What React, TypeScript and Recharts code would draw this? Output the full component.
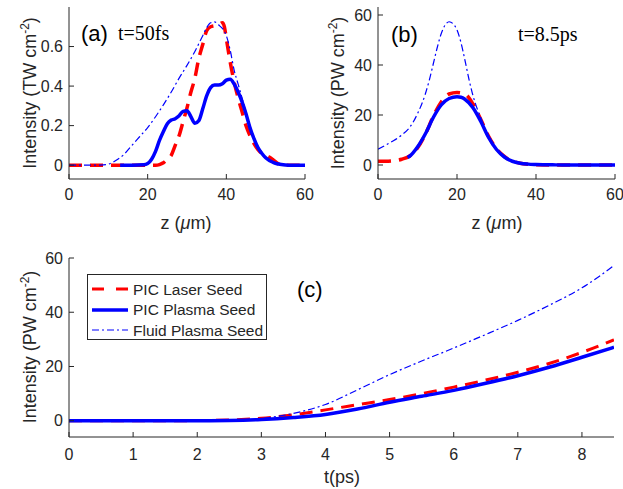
import React from 'react';
import { LineChart, Line, XAxis, YAxis, Legend } from 'recharts';

// panel (a): t = 50 fs, intensity in TW cm^-2 vs z (um)
const aFluidZ = [0, 4, 8, 10, 12, 14, 16, 18, 20, 22, 24, 26, 28, 30, 32, 34, 35, 36, 37, 38, 40, 41, 42, 43, 44, 46, 48, 50, 52, 54, 60];
const aFluidV = [0, 0, 0, 0.005, 0.025, 0.055, 0.1, 0.145, 0.19, 0.245, 0.305, 0.37, 0.44, 0.505, 0.575, 0.655, 0.695, 0.72, 0.725, 0.71, 0.655, 0.58, 0.48, 0.41, 0.34, 0.2, 0.09, 0.035, 0.01, 0, 0];
const aRedZ = [0, 22, 23, 24, 25, 26, 27, 28, 29, 30, 31, 32, 33, 34, 35, 36, 37, 38, 39, 39.5, 40, 41, 42, 43, 44, 45, 46, 47, 48, 49, 50, 51, 52, 53, 54, 60];
const aRedV = [0, 0, 0.003, 0.012, 0.03, 0.05, 0.1, 0.15, 0.22, 0.29, 0.37, 0.44, 0.54, 0.61, 0.68, 0.7, 0.705, 0.71, 0.72, 0.7, 0.64, 0.52, 0.42, 0.34, 0.27, 0.2, 0.15, 0.11, 0.08, 0.06, 0.05, 0.04, 0.025, 0.01, 0, 0];
const aSolidZ = [13, 16, 19, 20, 21, 22, 23, 24, 25, 26, 27, 28, 29, 30, 31, 32, 33, 34, 35, 36, 37, 38, 39, 40, 41, 42, 43, 44, 45, 46, 47, 48, 49, 50, 52, 54, 56, 60];
const aSolidV = [0, 0, 0.002, 0.008, 0.03, 0.07, 0.125, 0.17, 0.21, 0.228, 0.235, 0.25, 0.272, 0.275, 0.245, 0.212, 0.225, 0.285, 0.35, 0.392, 0.405, 0.405, 0.412, 0.43, 0.435, 0.41, 0.37, 0.32, 0.26, 0.19, 0.135, 0.09, 0.06, 0.037, 0.013, 0.003, 0, 0];

// panel (b): t = 8.5 ps, intensity in PW cm^-2 vs z (um)
const bFluidZ = [0, 2, 4, 6, 8, 10, 12, 13, 14, 15, 16, 17, 18, 19, 20, 21, 22, 23, 24, 25, 26, 28, 30, 32, 34, 36, 38, 40, 45, 50, 60];
const bFluidV = [6.3, 8, 9.8, 12, 15, 20.5, 28.5, 34, 40.5, 47, 52.5, 56, 57.3, 56.5, 54, 49, 42, 34.5, 28, 23, 19, 11, 6.2, 3.2, 1.5, 0.7, 0.35, 0.2, 0.05, 0, 0];
const bRedZ = [0, 2, 4, 6, 8, 10, 12, 14, 16, 18, 20, 22, 24, 26, 28, 30, 32, 34, 36, 38, 40, 45, 50, 60];
const bRedV = [1.5, 1.5, 1.7, 2.3, 3.6, 6.8, 12.3, 19.5, 25.2, 28.4, 29, 28.4, 24.5, 18.3, 11.5, 6.5, 3.4, 1.6, 0.7, 0.3, 0.1, 0, 0, 0];
const bSolidZ = [7.5, 8, 10, 12, 14, 16, 18, 20, 21, 22, 24, 26, 28, 30, 32, 34, 36, 38, 40, 45, 50, 60];
const bSolidV = [3, 3.5, 7.2, 12.5, 19, 24, 26.6, 27.3, 27.1, 26.3, 23, 17.5, 11, 6.2, 3.2, 1.5, 0.7, 0.35, 0.2, 0.05, 0, 0];

// panel (c): peak intensity vs time
const cT = [0, 0.5, 1, 1.5, 2, 2.5, 3, 3.5, 4, 4.5, 5, 5.5, 6, 6.5, 7, 7.5, 8, 8.5];
const cRed = [0, 0, 0, 0, 0.05, 0.3, 0.9, 2.2, 4.0, 5.9, 7.8, 10, 12.4, 15.0, 17.9, 21.2, 25.2, 29.8];
const cSolid = [0, 0, 0, 0, 0, 0.1, 0.45, 1.2, 2.3, 4.3, 6.8, 9.0, 11.2, 13.8, 16.6, 19.8, 23.4, 27.1];
const cFluid = [0, 0, 0, 0, 0, 0.1, 0.8, 2.7, 6.0, 11.4, 17.0, 22.0, 26.8, 31.8, 37.0, 42.7, 49.0, 57.2];

const zTicks = [0, 20, 40, 60];
const aTicks = [0, 0.2, 0.4, 0.6];
const bTicks = [0, 20, 40, 60];
const tTicks = [0, 1, 2, 3, 4, 5, 6, 7, 8];

const seriesNames = ['PIC Laser Seed', 'PIC Plasma Seed', 'Fluid Plasma Seed'];

const AX = '#262626';
const SANS = '"Liberation Sans", Arial, Helvetica, sans-serif';
const SERIF = '"Liberation Serif", "Times New Roman", serif';
const RED_DASH = '13 8';
const DASH_DOT = '7 3 2 3';

const pts = (xs: number[], vs: number[]) => xs.map((x, i) => ({ x, v: vs[i] }));

const tickStyle = { fontSize: 16, fill: AX, fontFamily: SANS };

function Frame({ xDomain, xTicks, yDomain, yTicks, yw, xm }: any) {
  return [
    <XAxis key="xb" xAxisId={0} type="number" dataKey="x" domain={xDomain} ticks={xTicks} allowDataOverflow
      height={30} stroke={AX} tickSize={-5} tickMargin={xm} tick={tickStyle} interval={0} />,
    <XAxis key="xt" xAxisId="top" orientation="top" type="number" dataKey="x" domain={xDomain} ticks={xTicks} allowDataOverflow
      height={0} stroke={AX} tickSize={-5} tickFormatter={() => ''} interval={0} />,
    <YAxis key="yl" yAxisId={0} type="number" domain={yDomain} ticks={yTicks} allowDataOverflow
      width={yw} stroke={AX} tickSize={-5} tickMargin={11} tick={tickStyle} interval={0} />,
    <YAxis key="yr" yAxisId="right" orientation="right" type="number" domain={yDomain} ticks={yTicks} allowDataOverflow
      width={0} stroke={AX} tickSize={-5} tickFormatter={() => ''} interval={0} />,
  ];
}

function CLegend() {
  const sample = (i: number) => {
    if (i === 0) return <line x1={0} y1={6} x2={36} y2={6} stroke="#ff0000" strokeWidth={3} strokeDasharray="12 12" />;
    if (i === 1) return <line x1={0} y1={6} x2={36} y2={6} stroke="#0000ff" strokeWidth={3.5} />;
    return <line x1={0} y1={6} x2={36} y2={6} stroke="#0000ff" strokeWidth={1.2} strokeDasharray={DASH_DOT} />;
  };
  return (
    <div style={{ width: 180, height: 66, border: `1px solid ${AX}`, background: '#fff', boxSizing: 'border-box', padding: '4px 0 0 4px' }}>
      {seriesNames.map((n, i) => (
        <div key={n} style={{ display: 'flex', alignItems: 'center', height: 20.5 }}>
          <svg width={36} height={12} style={{ marginRight: 5 }}>{sample(i)}</svg>
          <span style={{ fontFamily: SANS, fontSize: 15.5, color: AX, lineHeight: '15px' }}>{n}</span>
        </div>
      ))}
    </div>
  );
}

function YLabel({ x, y, unit }: { x: number; y: number; unit: string }) {
  return (
    <text transform={`translate(${x},${y}) rotate(-90)`} textAnchor="middle" fontFamily={SANS} fontSize={18} fill={AX}>
      {`Intensity (${unit} cm`}
      <tspan dy={-7} fontSize={12}>-2</tspan>
      <tspan dy={7}>)</tspan>
    </text>
  );
}

export default function App() {
  const t = (x: string, px: number, py: number, font: string, size: number, anchor = 'start') => (
    <text x={px} y={py} fontFamily={font} fontSize={size} fill="#000" textAnchor={anchor}>{x}</text>
  );
  const cRows = cT.map((x, i) => ({ x, red: cRed[i], solid: cSolid[i], fluid: cFluid[i] }));
  return (
    <div style={{ position: 'absolute', left: 0, top: 0, width: 623, height: 489, background: '#fff', overflow: 'hidden' }}>
      <div style={{ position: 'absolute', left: 0, top: 0 }}>
        <LineChart width={330} height={230} margin={{ top: 7, right: 25, bottom: 21, left: 0 }}>
          {Frame({ xDomain: [0, 60], xTicks: zTicks, yDomain: [-0.07, 0.8], yTicks: aTicks, yw: 69, xm: 15 })}
          <Line data={pts(aRedZ, aRedV)} dataKey="v" type="monotone" stroke="#ff0000" strokeWidth={3.5} strokeDasharray={RED_DASH} dot={false} isAnimationActive={false} />
          <Line data={pts(aSolidZ, aSolidV)} dataKey="v" type="monotone" stroke="#0000ff" strokeWidth={3.5} dot={false} isAnimationActive={false} />
          <Line data={pts(aFluidZ, aFluidV)} dataKey="v" type="monotone" stroke="#0000ff" strokeWidth={1.2} strokeDasharray={DASH_DOT} dot={false} isAnimationActive={false} />
        </LineChart>
      </div>
      <div style={{ position: 'absolute', left: 310, top: 0 }}>
        <LineChart width={313} height={230} margin={{ top: 7, right: 8, bottom: 21, left: 0 }}>
          {Frame({ xDomain: [0, 60], xTicks: zTicks, yDomain: [-5.6, 63.2], yTicks: bTicks, yw: 68, xm: 15 })}
          <Line data={pts(bRedZ, bRedV)} dataKey="v" type="monotone" stroke="#ff0000" strokeWidth={3.5} strokeDasharray={RED_DASH} dot={false} isAnimationActive={false} />
          <Line data={pts(bSolidZ, bSolidV)} dataKey="v" type="monotone" stroke="#0000ff" strokeWidth={3.5} dot={false} isAnimationActive={false} />
          <Line data={pts(bFluidZ, bFluidV)} dataKey="v" type="monotone" stroke="#0000ff" strokeWidth={1.2} strokeDasharray={DASH_DOT} dot={false} isAnimationActive={false} />
        </LineChart>
      </div>
      <div style={{ position: 'absolute', left: 0, top: 240 }}>
        <LineChart width={623} height={249} data={cRows} margin={{ top: 18, right: 9, bottom: 22, left: 0 }}>
          {Frame({ xDomain: [0, 8.5], xTicks: tTicks, yDomain: [-6, 60], yTicks: bTicks, yw: 69, xm: 17 })}
          <Line dataKey="red" name={seriesNames[0]} type="monotone" stroke="#ff0000" strokeWidth={3} strokeDasharray={RED_DASH} dot={false} isAnimationActive={false} />
          <Line dataKey="solid" name={seriesNames[1]} type="monotone" stroke="#0000ff" strokeWidth={3.5} dot={false} isAnimationActive={false} />
          <Line dataKey="fluid" name={seriesNames[2]} type="monotone" stroke="#0000ff" strokeWidth={1.2} strokeDasharray={DASH_DOT} dot={false} isAnimationActive={false} />
          <Legend layout="vertical" verticalAlign="middle" align="center" content={() => <CLegend />}
            wrapperStyle={{ left: 87, top: 34, width: 180, height: 66 }} />
        </LineChart>
      </div>
      <svg width={623} height={489} style={{ position: 'absolute', left: 0, top: 0, pointerEvents: 'none' }}>
        {t('(a)', 81, 41, SANS, 22)}
        {t('t=50fs', 118, 40, SERIF, 20)}
        {t('(b)', 391, 42, SANS, 22)}
        {t('t=8.5ps', 518, 41, SERIF, 20)}
        {t('(c)', 297, 297, SANS, 22)}
        <YLabel x={36} y={93} unit="TW" />
        <YLabel x={344} y={93} unit="PW" />
        <YLabel x={36} y={347} unit="PW" />
        <text x={186} y={229} textAnchor="middle" fontFamily={SANS} fontSize={18} fill={AX}>
          z (<tspan fontStyle="italic">μ</tspan>m)
        </text>
        <text x={497} y={229} textAnchor="middle" fontFamily={SANS} fontSize={18} fill={AX}>
          z (<tspan fontStyle="italic">μ</tspan>m)
        </text>
        <text x={342} y={483} textAnchor="middle" fontFamily={SANS} fontSize={18} fill={AX}>t(ps)</text>
      </svg>
    </div>
  );
}
